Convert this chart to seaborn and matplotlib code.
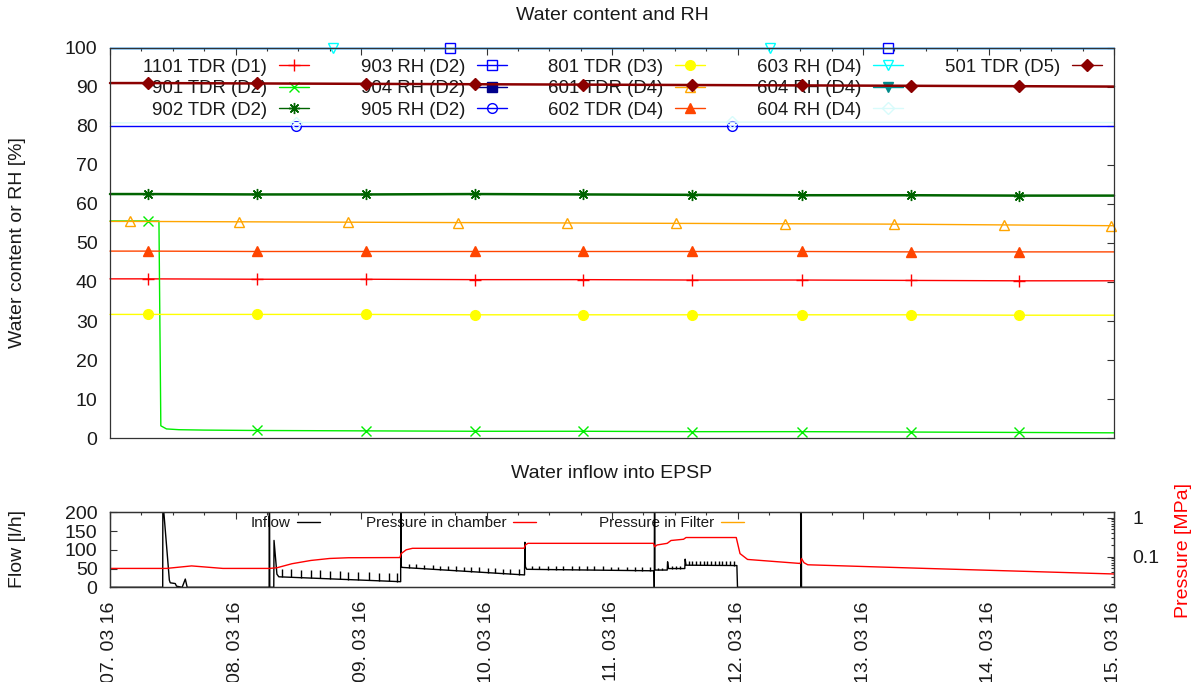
import numpy as np
import matplotlib
matplotlib.use("Agg")
import matplotlib.pyplot as plt
from matplotlib.lines import Line2D
from matplotlib.legend import Legend
from matplotlib.ticker import FixedLocator, MultipleLocator, NullFormatter, LogLocator
import seaborn as sns

sns.set_theme(style="white")
plt.rcParams["font.family"] = ["Liberation Sans", "DejaVu Sans"]
TEXT = "#1a1a1a"
FRAME = "#333333"

# ---- time axis: days since 07.03.2016 00:00 ----
day_ticks = [0, 1, 2, 3, 4, 5, 6, 7, 8]
date_labels = ["07. 03 16", "08. 03 16", "09. 03 16", "10. 03 16", "11. 03 16",
               "12. 03 16", "13. 03 16", "14. 03 16", "15. 03 16"]

# ---- water content (TDR) and relative humidity (RH), in % ----
tdr_t = [0.0, 0.30, 1.17, 2.04, 2.91, 3.77, 4.64, 5.51, 6.38, 7.24, 8.0]
tdr_1101 = [40.8, 40.8, 40.7, 40.7, 40.6, 40.6, 40.5, 40.5, 40.4, 40.3, 40.3]
tdr_902 = [62.5, 62.5, 62.4, 62.4, 62.5, 62.4, 62.3, 62.2, 62.2, 62.1, 62.1]
tdr_801 = [31.7, 31.7, 31.7, 31.7, 31.6, 31.6, 31.6, 31.6, 31.6, 31.5, 31.5]
tdr_602 = [47.9, 47.9, 47.8, 47.8, 47.8, 47.8, 47.8, 47.8, 47.7, 47.7, 47.7]
tdr_501 = [90.9, 90.9, 90.8, 90.7, 90.6, 90.5, 90.4, 90.3, 90.2, 90.1, 90.0]

t_901 = [0.0, 0.30, 0.39, 0.405, 0.45, 0.55, 0.75, 1.17, 2.04, 2.91, 3.77, 4.64, 5.51, 6.38, 7.24, 8.0]
tdr_901 = [55.6, 55.6, 55.6, 3.2, 2.4, 2.2, 2.1, 2.0, 1.9, 1.8, 1.8, 1.7, 1.7, 1.6, 1.5, 1.4]

t_601 = [0.0, 0.16, 1.03, 1.90, 2.77, 3.64, 4.51, 5.38, 6.25, 7.12, 7.98, 8.0]
tdr_601 = [55.5, 55.5, 55.4, 55.3, 55.2, 55.1, 55.0, 54.9, 54.8, 54.6, 54.4, 54.4]

t_905 = [0.0, 1.48, 4.96, 8.0]
rh_905 = [79.8, 79.8, 79.8, 79.8]
t_604b = [0.0, 1.48, 4.96, 8.0]
rh_604b = [80.7, 80.8, 80.9, 80.8]
t_903 = [0.0, 2.71, 6.20, 8.0]
rh_903 = [100.0, 100.0, 100.0, 100.0]
t_603 = [0.0, 1.78, 5.26, 8.0]
rh_603 = [100.0, 100.0, 100.0, 100.0]

# ---- water inflow [l/h] ----
flow_t = [0.000, 0.420, 0.422, 0.4265, 0.473, 0.480, 0.520, 0.530, 0.575, 0.600, 0.615, 0.630,
          1.268, 1.270, 1.273, 1.305, 1.307, 1.330, 1.345,
          2.316, 2.318, 2.321, 2.330,
          3.303, 3.306, 3.310, 3.320,
          4.335, 4.337, 4.339, 4.342, 4.440, 4.443, 4.450, 4.580, 4.583, 4.590,
          4.995, 5.000, 5.505, 5.507, 5.510, 8.000]
flow_v = [0, 0, 400, 210, 19, 12, 10, 3, 0, 22, 0, 0,
          0, 400, 0, 0, 125, 35, 28,
          15, 400, 55, 53,
          33, 120, 55, 48,
          44, 0, 400, 46, 46, 68, 50, 50, 75, 59,
          58, 0, 0, 400, 0, 0]

spike_t = [1.37, 1.44, 1.52, 1.60, 1.67, 1.75, 1.83, 1.90, 1.98, 2.06, 2.14, 2.22, 2.29,
           2.38, 2.44, 2.50, 2.57, 2.63, 2.69, 2.76, 2.82, 2.88, 2.94, 3.01, 3.07, 3.13, 3.19, 3.26,
           3.36, 3.42, 3.49, 3.55, 3.61, 3.68, 3.74, 3.80, 3.86, 3.93, 3.99, 4.05, 4.12, 4.18, 4.24, 4.30,
           4.37, 4.40, 4.48, 4.51, 4.54, 4.61, 4.64, 4.67, 4.70, 4.73, 4.76, 4.79, 4.82, 4.85,
           4.88, 4.91, 4.94, 4.97]
spike_top = [50, 48, 47, 46, 45, 44, 43, 42, 41, 40, 39, 38, 37,
             62, 61, 60, 59, 58, 57, 56, 55, 54, 53, 52, 51, 50, 49, 48,
             58, 58, 58, 57, 57, 57, 56, 56, 56, 56, 55, 55, 55, 55, 55, 55,
             52, 52, 58, 58, 58, 70, 70, 70, 70, 70, 70, 70, 70, 70,
             70, 70, 70, 70]

# ---- pressure in chamber [MPa] ----
p_t = [0.00, 0.45, 0.65, 0.90, 1.27, 1.33, 1.45, 1.60, 1.75, 1.90, 2.31, 2.32, 2.36, 2.41,
       3.30, 3.31, 3.33, 4.33, 4.34, 4.36, 4.44, 4.47, 4.57, 4.59, 4.99, 5.02, 5.08, 5.30,
       5.50, 5.51, 5.53, 5.56, 6.50, 7.30, 8.00]
p_v = [0.050, 0.050, 0.058, 0.050, 0.050, 0.052, 0.066, 0.080, 0.090, 0.094, 0.095, 0.120, 0.150, 0.164,
       0.165, 0.200, 0.220, 0.220, 0.180, 0.200, 0.220, 0.260, 0.280, 0.310, 0.310, 0.120, 0.085, 0.075,
       0.067, 0.090, 0.070, 0.062, 0.050, 0.042, 0.036]

W, H = 1199, 682
fig = plt.figure(figsize=(W / 100, H / 100), dpi=100)
L, R = 110, 1114
ax = fig.add_axes([L / W, 1 - 438.3 / H, (R - L) / W, (438.3 - 47.5) / H])
axb = fig.add_axes([L / W, 1 - 587.3 / H, (R - L) / W, (587.3 - 512.3) / H])

series = [
    # label, t, v, color, marker, filled, marker indices, lw
    ("1101 TDR (D1)", tdr_t, tdr_1101, "#ff0000", "+", True, list(range(1, 10)), 1.0),
    ("901 TDR (D2)", t_901, tdr_901, "#00ee00", "x", True, [1] + list(range(7, 15)), 1.0),
    ("902 TDR (D2)", tdr_t, tdr_902, "#006400", (8, 2, 0), True, list(range(1, 10)), 1.8),
    ("903 RH (D2)", t_903, rh_903, "#0000ff", "s", False, [1, 2], 1.0),
    ("904 RH (D2)", [], [], "#00008b", "s", True, [], 1.0),
    ("905 RH (D2)", t_905, rh_905, "#0000ff", "o", False, [1, 2], 1.0),
    ("801 TDR (D3)", tdr_t, tdr_801, "#ffff00", "o", True, list(range(1, 10)), 1.0),
    ("601 TDR (D4)", t_601, tdr_601, "#ffa500", "^", False, list(range(1, 11)), 1.0),
    ("602 TDR (D4)", tdr_t, tdr_602, "#ff4500", "^", True, list(range(1, 10)), 1.0),
    ("603 RH (D4)", t_603, rh_603, "#00ffff", "v", False, [1, 2], 1.0),
    ("604 RH (D4)", [], [], "#008b8b", "v", True, [], 1.0),
    ("604 RH (D4)", t_604b, rh_604b, "#d8fbfb", "D", False, [1, 2], 1.0),
    ("501 TDR (D5)", tdr_t, tdr_501, "#8b0000", "D", True, list(range(1, 10)), 1.8),
]

handles = []
for label, t, v, c, m, filled, marks, lw in series:
    ms = {"D": 6, "+": 9, "x": 7, "o": 7}.get(m, 7) if not isinstance(m, tuple) else 8
    style = dict(color=c, marker=m, markersize=ms, markeredgecolor=c,
                 markerfacecolor=c if filled else "none", markeredgewidth=1.0)
    if len(t):
        sns.lineplot(x=t, y=v, ax=ax, estimator=None, sort=False, linewidth=lw,
                     markevery=marks, clip_on=False, **style)
    handles.append(Line2D([], [], linewidth=1.0, **style))

ax.set_xlim(0, 8)
ax.set_ylim(0, 100)
ax.xaxis.set_major_locator(FixedLocator(day_ticks))
ax.xaxis.set_minor_locator(MultipleLocator(0.25))
ax.yaxis.set_major_locator(MultipleLocator(10))
ax.tick_params(axis="both", which="both", direction="in", top=True, right=True,
               labelbottom=False, colors=FRAME, labelcolor=TEXT, labelsize=14, pad=9)
ax.tick_params(which="major", length=5, width=0.8)
ax.tick_params(which="minor", length=2.5, width=0.8)
ax.set_xlabel("")
ax.set_ylabel("")

# key of the upper plot: column-wise, text right-aligned in front of the sample,
# drawn underneath the curves
groups = [(0, 3), (3, 6), (6, 9), (9, 12), (12, 13)]
col_right = [309, 507, 705, 903, 1102]
for (i, j), xr in zip(groups, col_right):
    leg = Legend(ax, handles[i:j], [s[0] for s in series[i:j]], loc="upper right",
                 bbox_to_anchor=(xr / W, 1 - 58.5 / H), bbox_transform=fig.transFigure,
                 frameon=False, markerfirst=False, handlelength=1.6, handletextpad=0.65,
                 borderpad=0, borderaxespad=0, labelspacing=0.24, fontsize=13.4,
                 numpoints=1, labelcolor=TEXT)
    leg.set_zorder(1)
    ax.add_artist(leg)

# ---- lower plot: inflow and pressure ----
sns.lineplot(x=flow_t, y=flow_v, ax=axb, estimator=None, sort=False, color="black", linewidth=1.0)
base = np.interp(spike_t, flow_t, flow_v)
axb.vlines(spike_t, base, spike_top, color="black", linewidth=1.0)
axb.set_xlim(0, 8)
axb.set_ylim(0, 200)
axb.yaxis.set_major_locator(FixedLocator([0, 50, 100, 150, 200]))
axb.xaxis.set_major_locator(FixedLocator(day_ticks))
axb.xaxis.set_minor_locator(MultipleLocator(0.25))
axb.set_xticklabels(date_labels, rotation=90)
axb.tick_params(axis="both", which="both", direction="in", top=True, right=False,
                colors=FRAME, labelcolor=TEXT, labelsize=14)
axb.tick_params(axis="y", pad=9)
axb.tick_params(axis="x", pad=10)
axb.tick_params(which="major", length=5, width=0.8)
axb.tick_params(which="minor", length=2.5, width=0.8)
axb.set_xlabel("")
axb.set_ylabel("")

flow_handles = [Line2D([], [], color="black", linewidth=1.0),
                Line2D([], [], color="#ff0000", linewidth=1.0),
                Line2D([], [], color="#ffa500", linewidth=1.0)]
flow_labels = ["Inflow", "Pressure in chamber", "Pressure in Filter"]
for h, lab, xr in zip(flow_handles, flow_labels, [320, 536, 744]):
    leg = Legend(axb, [h], [lab], loc="center right", bbox_to_anchor=(xr / W, 1 - 523 / H),
                 bbox_transform=fig.transFigure, frameon=False, markerfirst=False,
                 handlelength=1.5, handletextpad=0.45, borderpad=0, borderaxespad=0,
                 fontsize=11, labelcolor=TEXT)
    leg.set_zorder(1)
    axb.add_artist(leg)

axp = axb.twinx()
sns.lineplot(x=p_t, y=p_v, ax=axp, estimator=None, sort=False, color="#ff0000", linewidth=1.0)
axp.set_yscale("log")
axp.set_ylim(0.0164, 1.375)
axp.yaxis.set_major_locator(FixedLocator([0.1, 1]))
axp.set_yticklabels(["0.1", "1"])
axp.yaxis.set_minor_locator(LogLocator(base=10, subs=(2, 3, 4, 5, 6, 7, 8, 9)))
axp.yaxis.set_minor_formatter(NullFormatter())
axp.tick_params(axis="y", which="both", direction="in", colors=FRAME, labelcolor=TEXT,
                labelsize=14, pad=13)
axp.tick_params(axis="y", which="major", length=5, width=0.8)
axp.tick_params(axis="y", which="minor", length=2.5, width=0.8)
axp.set_ylabel("")

for a in (ax, axb, axp):
    for sp in a.spines.values():
        sp.set_color(FRAME)
        sp.set_linewidth(0.9)

fig.text(612 / W, 1 - 15 / H, "Water content and RH", ha="center", va="center", fontsize=14, color=TEXT)
fig.text(612 / W, 1 - 474 / H, "Water inflow into EPSP", ha="center", va="center", fontsize=14, color=TEXT)
fig.text(18 / W, 1 - 243 / H, "Water content or RH [%]", ha="center", va="center", rotation=90,
         fontsize=14, color=TEXT)
fig.text(18 / W, 1 - 549 / H, "Flow [l/h]", ha="center", va="center", rotation=90, fontsize=14, color=TEXT)
fig.text(1183 / W, 1 - 550 / H, "Pressure [MPa]", ha="center", va="center", rotation=90,
         fontsize=14, color="#ff0000")

fig.savefig("out.png", dpi=100)
